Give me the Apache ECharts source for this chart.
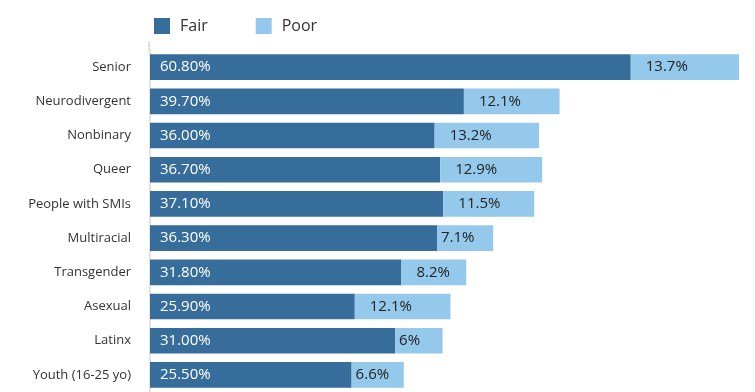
<!DOCTYPE html>
<html>
<head>
<meta charset="utf-8">
<style>
  html, body { margin: 0; padding: 0; background: #ffffff; }
  #chart { width: 755px; height: 392px; }
</style>
<script src="https://cdn.jsdelivr.net/npm/echarts@6/dist/echarts.min.js"></script>
</head>
<body>
<div id="chart"></div>
<script>
// Share of respondents rating their health fair / poor, by group
const categories = ['Senior', 'Neurodivergent', 'Nonbinary', 'Queer', 'People with SMIs',
  'Multiracial', 'Transgender', 'Asexual', 'Latinx', 'Youth (16-25 yo)'];
const fair = [60.8, 39.7, 36.0, 36.7, 37.1, 36.3, 31.8, 25.9, 31.0, 25.5];
const poor = [13.7, 12.1, 13.2, 12.9, 11.5, 7.1, 8.2, 12.1, 6.0, 6.6];

const FONT = '"Open Sans", "Noto Sans", sans-serif';
const chart = echarts.init(document.getElementById('chart'));

// narrow "Poor" segments get their label tucked closer to the left edge
const poorData = poor.map(v => ({
  value: v,
  label: { offset: [v < 7.6 ? -11 : 0, 0] }
}));

chart.setOption({
  animation: false,
  textStyle: { fontFamily: FONT },
  legend: {
    left: 149,
    top: 13,
    itemWidth: 16,
    itemHeight: 16,
    itemGap: 48,
    icon: 'rect',
    textStyle: { fontFamily: FONT, fontSize: 16, color: '#333333', padding: [0, 0, 0, 5] },
    data: ['Fair', 'Poor']
  },
  // the category axis rule runs a little above the first bar
  graphic: [{
    type: 'line',
    shape: { x1: 149, y1: 41, x2: 149, y2: 51 },
    style: { stroke: '#e3e3e3', lineWidth: 2 }
  }],
  grid: { left: 150, top: 50, width: 593, height: 345 },
  xAxis: {
    type: 'value',
    min: 0,
    max: 75,
    show: false
  },
  yAxis: {
    type: 'category',
    inverse: true,
    data: categories,
    axisLine: { show: true, lineStyle: { color: '#e3e3e3', width: 2 } },
    axisTick: { show: false },
    axisLabel: { fontFamily: FONT, fontSize: 13, color: '#333333', margin: 19 }
  },
  series: [
    {
      name: 'Fair',
      type: 'bar',
      stack: 'total',
      barWidth: '75%',
      itemStyle: { color: '#376d9a' },
      label: {
        show: true,
        position: 'insideLeft',
        distance: 10,
        fontFamily: FONT,
        fontSize: 15,
        color: '#ffffff',
        formatter: p => p.value.toFixed(2) + '%'
      },
      data: fair
    },
    {
      name: 'Poor',
      type: 'bar',
      stack: 'total',
      barWidth: '75%',
      itemStyle: { color: '#95c9ec' },
      label: {
        show: true,
        position: 'insideLeft',
        distance: 15,
        fontFamily: FONT,
        fontSize: 15,
        color: '#222222',
        formatter: p => p.value + '%'
      },
      data: poorData
    }
  ]
});
</script>
</body>
</html>
